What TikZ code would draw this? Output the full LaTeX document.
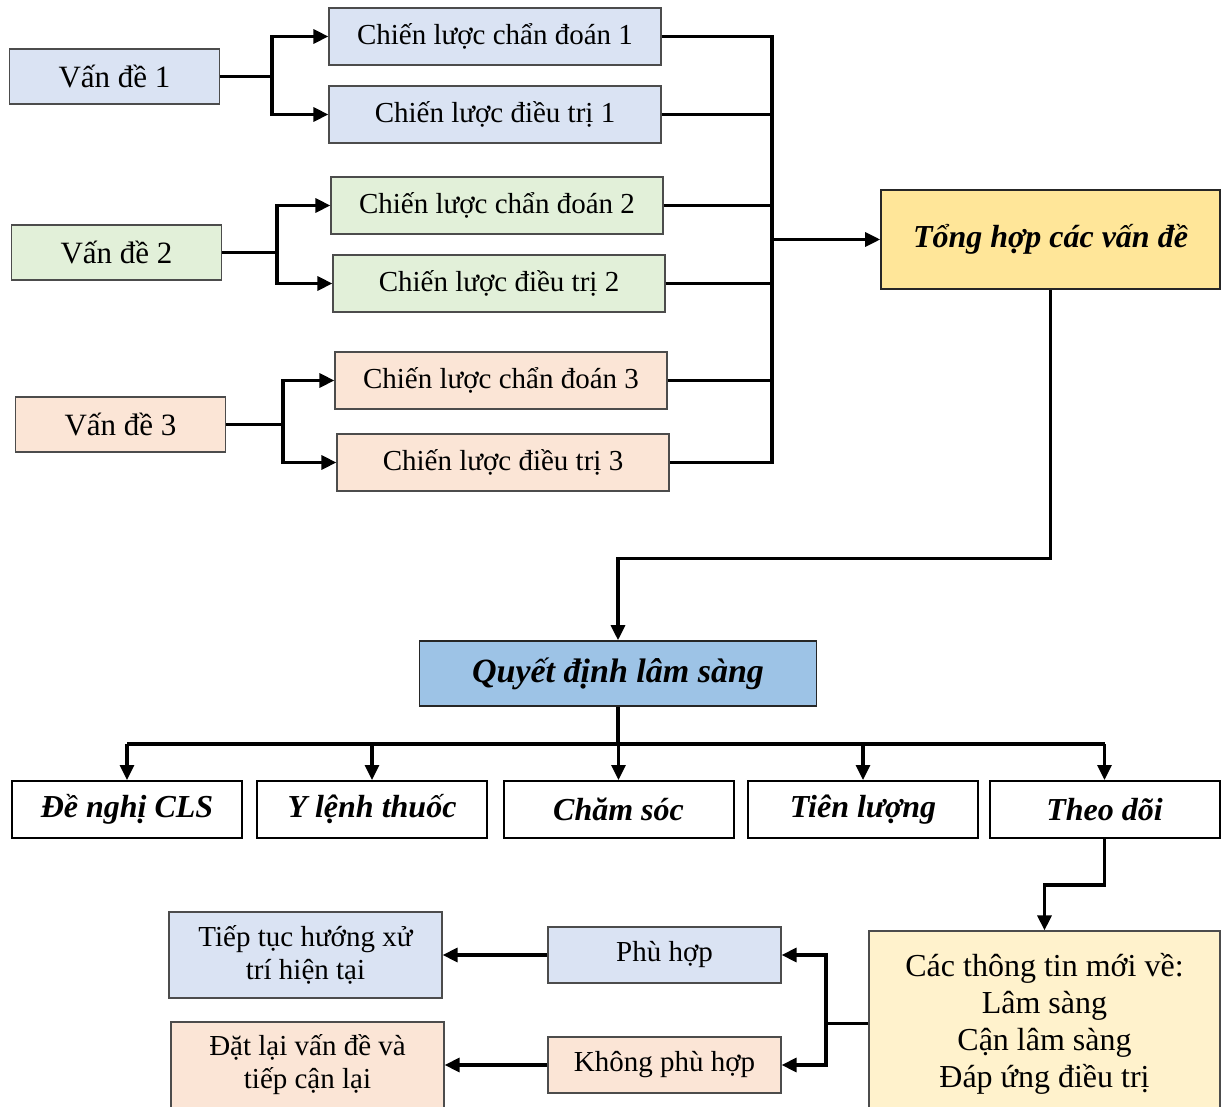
\documentclass[tikz,border=0pt]{standalone}
\usepackage{fontspec}
\setmainfont{Liberation Serif}
\usetikzlibrary{arrows.meta, calc, positioning}
\definecolor{vdblue}{RGB}{218,227,243}
\definecolor{vdgreen}{RGB}{226,240,217}
\definecolor{vdorange}{RGB}{251,229,214}
\definecolor{sumyellow}{RGB}{255,230,153}
\definecolor{decblue}{RGB}{157,195,230}
\definecolor{infoyellow}{RGB}{255,242,204}

\begin{document}
\begin{tikzpicture}[
    x=0.5pt, y=-0.5pt,
    box/.style={rectangle, draw=black!70, line width=0.6pt, align=center, inner sep=2pt},
    probbox/.style={box, minimum width=105pt, minimum height=27.5pt,
                    font=\fontsize{15.5}{18}\selectfont},
    stratbox/.style={box, minimum width=166pt, minimum height=28.5pt,
                     font=\fontsize{14.5}{17}\selectfont},
    keybox/.style={box, draw=black!85, line width=0.8pt,
                   font=\fontsize{16}{19}\selectfont\bfseries\itshape},
    actbox/.style={box, draw=black, line width=1pt, fill=white,
                   minimum width=115pt, minimum height=28.5pt,
                   font=\fontsize{16}{19}\selectfont\bfseries\itshape},
    evalbox/.style={box, minimum width=116.5pt, minimum height=28pt,
                    font=\fontsize{14.5}{17}\selectfont},
    outbox/.style={box, minimum width=136.5pt, minimum height=43pt,
                   font=\fontsize{14.5}{16.5}\selectfont},
    arr/.style={-{Triangle[length=7.5pt, width=7pt]}, line width=1.6pt},
    bus/.style={line width=1.6pt}
]
\useasboundingbox (0,0) rectangle (1222,1107);

% Problems and their strategies
\node[probbox, fill=vdblue]   (v1) at (114.5,76.5)  {Vấn đề 1};
\node[probbox, fill=vdgreen]  (v2) at (116.5,252.5) {Vấn đề 2};
\node[probbox, fill=vdorange] (v3) at (120.5,424.5) {Vấn đề 3};

\node[stratbox, fill=vdblue]   (cd1) at (495,36.5)  {Chiến lược chẩn đoán 1};
\node[stratbox, fill=vdblue]   (dt1) at (495,114.5) {Chiến lược điều trị 1};
\node[stratbox, fill=vdgreen]  (cd2) at (497,205.5) {Chiến lược chẩn đoán 2};
\node[stratbox, fill=vdgreen]  (dt2) at (499,283.5) {Chiến lược điều trị 2};
\node[stratbox, fill=vdorange] (cd3) at (501,380.5) {Chiến lược chẩn đoán 3};
\node[stratbox, fill=vdorange] (dt3) at (503,462.5) {Chiến lược điều trị 3};

% Summary and decision
\node[keybox, fill=sumyellow, minimum width=169.5pt, minimum height=49.5pt]
  (tong) at (1050.5,239.5) {Tổng hợp các vấn đề};
\node[keybox, fill=decblue, minimum width=198.5pt, minimum height=32.5pt,
      font=\fontsize{17}{20}\selectfont\bfseries\itshape]
  (quyet) at (618,673.5) {Quyết định lâm sàng};

% Bottom row of actions
\node[actbox] (cls)   at (127,809.5)   {Đề nghị CLS};
\node[actbox] (ylenh) at (372,809.5)   {Y lệnh thuốc};
\node[actbox] (cham)  at (618.5,809.5) {Chăm sóc};
\node[actbox] (tien)  at (863,809.5)   {Tiên lượng};
\node[actbox] (theo)  at (1104.5,809.5) {Theo dõi};

% Follow-up branch
\node[box, fill=infoyellow, minimum width=175.5pt, minimum height=92.5pt,
      font=\fontsize{16}{18.5}\selectfont]
  (info) at (1044.5,1023.5) {Các thông tin mới về:\\Lâm sàng\\Cận lâm sàng\\Đáp ứng điều trị};
\node[evalbox, fill=vdblue]   (phu)   at (664.5,955)  {Phù hợp};
\node[evalbox, fill=vdorange] (khong) at (664.5,1065) {Không phù hợp};
\node[outbox, fill=vdblue]    (tiep)  at (305.5,955)  {Tiếp tục hướng xử\\trí hiện tại};
\node[outbox, fill=vdorange]  (datlai) at (307.5,1065) {Đặt lại vấn đề và\\tiếp cận lại};

% Split each problem into its two strategies
\coordinate (s1) at (272,76.5);
\coordinate (s2) at (277,252.5);
\coordinate (s3) at (283,424.5);
\draw[bus] (v1.east) -- (s1);
\draw[bus] (v2.east) -- (s2);
\draw[bus] (v3.east) -- (s3);
\draw[arr] (s1) |- (cd1.west);
\draw[arr] (s1) |- (dt1.west);
\draw[arr] (s2) |- (cd2.west);
\draw[arr] (s2) |- (dt2.west);
\draw[arr] (s3) |- (cd3.west);
\draw[arr] (s3) |- (dt3.west);

% Collect all strategies on one bus
\coordinate (busx) at (772,0);
\draw[bus] (cd1.east) -| (busx |- dt3.east) -- (dt3.east);
\foreach \n in {dt1,cd2,dt2,cd3}
  \draw[bus] (\n.east) -- (busx |- \n.east);
\draw[arr] (busx |- tong.west) -- (tong.west);

% Summary down to the decision
\draw[arr] (tong.south) -- ++(0,269) -| (quyet.north);

% Decision fans out to the actions
\coordinate (qb) at (618,744);
\draw[bus] (quyet.south) -- (qb);
\draw[bus] (cls.north |- qb) -- (theo.north |- qb);
\foreach \n in {cls,ylenh,cham,tien,theo}
  \draw[arr] (\n.north |- qb) -- (\n.north);

% Follow-up loop
\draw[arr] (theo.south) -- ++(0,46) -| (info.north);
\coordinate (split) at (826,0);
\draw[bus] (info.west) -- (split |- info.west);
\draw[arr] (split |- info.west) |- (phu.east);
\draw[arr] (split |- info.west) |- (khong.east);
\draw[arr] (phu.west) -- (tiep.east);
\draw[arr] (khong.west) -- (datlai.east);
\end{tikzpicture}
\end{document}
